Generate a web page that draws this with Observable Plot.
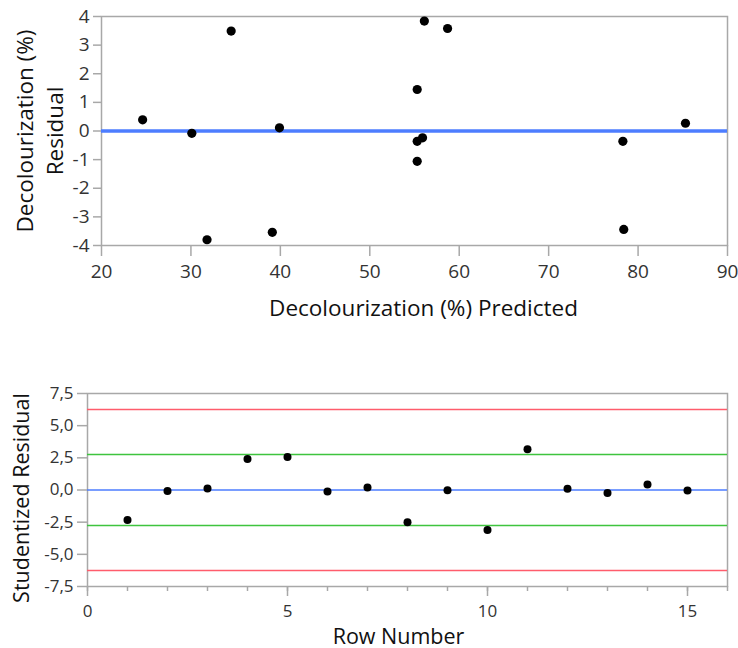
<!DOCTYPE html>
<html>
<head>
<meta charset="utf-8">
<script src="https://cdn.jsdelivr.net/npm/d3@7"></script>
<script src="https://cdn.jsdelivr.net/npm/@observablehq/plot@0.6"></script>
<style>
  html, body { margin: 0; padding: 0; background: #fff; }
  #topChart, #bottomChart { display: block; }
  #gap { height: 40px; }
  svg { font-family: "Open Sans", sans-serif; }
</style>
</head>
<body>
<div id="topChart"></div>
<div id="gap"></div>
<div id="bottomChart"></div>
<script>
// Top chart: residual vs predicted
const predicted = [24.6, 30.1, 34.5, 39.9, 31.8, 39.1, 56.1, 58.7, 55.3, 55.3, 55.9, 55.3, 78.3, 78.4, 85.3];
const residual  = [0.39, -0.08, 3.49, 0.11, -3.80, -3.54, 3.84, 3.58, 1.45, -0.36, -0.24, -1.06, -0.36, -3.44, 0.27];
const topXTicks = [20, 30, 40, 50, 60, 70, 80, 90];
const topYTicks = [-4, -3, -2, -1, 0, 1, 2, 3, 4];

// Bottom chart: studentized residual by row
const rowNumber = [1, 2, 3, 4, 5, 6, 7, 8, 9, 10, 11, 12, 13, 14, 15];
const studentized = [-2.33, -0.08, 0.12, 2.41, 2.56, -0.12, 0.19, -2.51, -0.01, -3.11, 3.16, 0.09, -0.24, 0.43, -0.03];
const redLimits = [6.26, -6.26];
const greenLimits = [2.76, -2.76];
const botXMajor = [0, 5, 10, 15];
const botXMinor = [0, 1, 2, 3, 4, 5, 6, 7, 8, 9, 10, 11, 12, 13, 14, 15, 16];
const botYTicks = [-7.5, -5, -2.5, 0, 2.5, 5, 7.5];

const topData = predicted.map((p, i) => ({p, r: residual[i]}));
const botData = rowNumber.map((n, i) => ({n, s: studentized[i]}));

const comma = d => d.toFixed(1).replace(".", ",").replace("−", "-");

const gray = "#a8a8a8";
const ink = "#333";

const topPlot = Plot.plot({
  width: 738, height: 330,
  marginLeft: 101, marginRight: 11, marginTop: 16, marginBottom: 85,
  x: {domain: [20, 90]},
  y: {domain: [-4, 4]},
  marks: [
    Plot.frame({stroke: gray, strokeWidth: 1.5}),
    Plot.axisX({ticks: topXTicks, tickSize: 11, tickPadding: 8, stroke: gray, strokeWidth: 1.5, fill: ink, fontSize: 19, label: null, tickFormat: d => String(d)}),
    Plot.axisY({ticks: topYTicks, tickSize: 8, tickPadding: 4, stroke: gray, strokeWidth: 1.5, fill: ink, fontSize: 19, label: null, tickFormat: d => String(d).replace("−", "-")}),
    Plot.ruleY([0], {stroke: "#4d7dff", strokeWidth: 3.5}),
    Plot.dot(topData, {x: "p", y: "r", r: 4.6, fill: "#000", stroke: null}),
    Plot.text(["Decolourization (%) Predicted"], {frameAnchor: "bottom", dy: 70, dx: 9, text: d => d, fontSize: 22.5, fill: "#111", lineAnchor: "bottom"}),
    Plot.text(["Decolourization (%)\nResidual"], {frameAnchor: "left", textAnchor: "middle", dx: -63, rotate: -90, text: d => d, fontSize: 22.5, fill: "#111", lineHeight: 1.33, lineAnchor: "middle"})
  ]
});
document.getElementById("topChart").appendChild(topPlot);

const bottomPlot = Plot.plot({
  width: 738, height: 278,
  marginLeft: 87, marginRight: 11, marginTop: 23, marginBottom: 62,
  x: {domain: [0, 16]},
  y: {domain: [-7.5, 7.5]},
  marks: [
    Plot.frame({stroke: gray, strokeWidth: 1.5}),
    Plot.axisX({ticks: botXMinor, tickSize: 5, stroke: gray, strokeWidth: 1.5, tickFormat: () => "", label: null}),
    Plot.axisX({ticks: botXMajor, tickSize: 10, tickPadding: 8, stroke: gray, strokeWidth: 1.5, fill: ink, fontSize: 17, label: null, tickFormat: d => String(d)}),
    Plot.axisY({ticks: botYTicks, tickSize: 10, tickPadding: 4, stroke: gray, strokeWidth: 1.5, fill: ink, fontSize: 17, label: null, tickFormat: comma}),
    Plot.ruleY(redLimits, {stroke: "#ff5c6c", strokeWidth: 1.6}),
    Plot.ruleY(greenLimits, {stroke: "#3fc43f", strokeWidth: 1.6}),
    Plot.ruleY([0], {stroke: "#4d7dff", strokeWidth: 1.6}),
    Plot.dot(botData, {x: "n", y: "s", r: 4, fill: "#000", stroke: null}),
    Plot.text(["Row Number"], {frameAnchor: "bottom", dy: 57, dx: -9, text: d => d, fontSize: 21.5, fill: "#111", lineAnchor: "bottom"}),
    Plot.text(["Studentized Residual"], {frameAnchor: "left", textAnchor: "middle", dx: -65, dy: 8, rotate: -90, text: d => d, fontSize: 21.5, fill: "#111", lineAnchor: "middle"})
  ]
});
document.getElementById("bottomChart").appendChild(bottomPlot);
</script>
</body>
</html>
